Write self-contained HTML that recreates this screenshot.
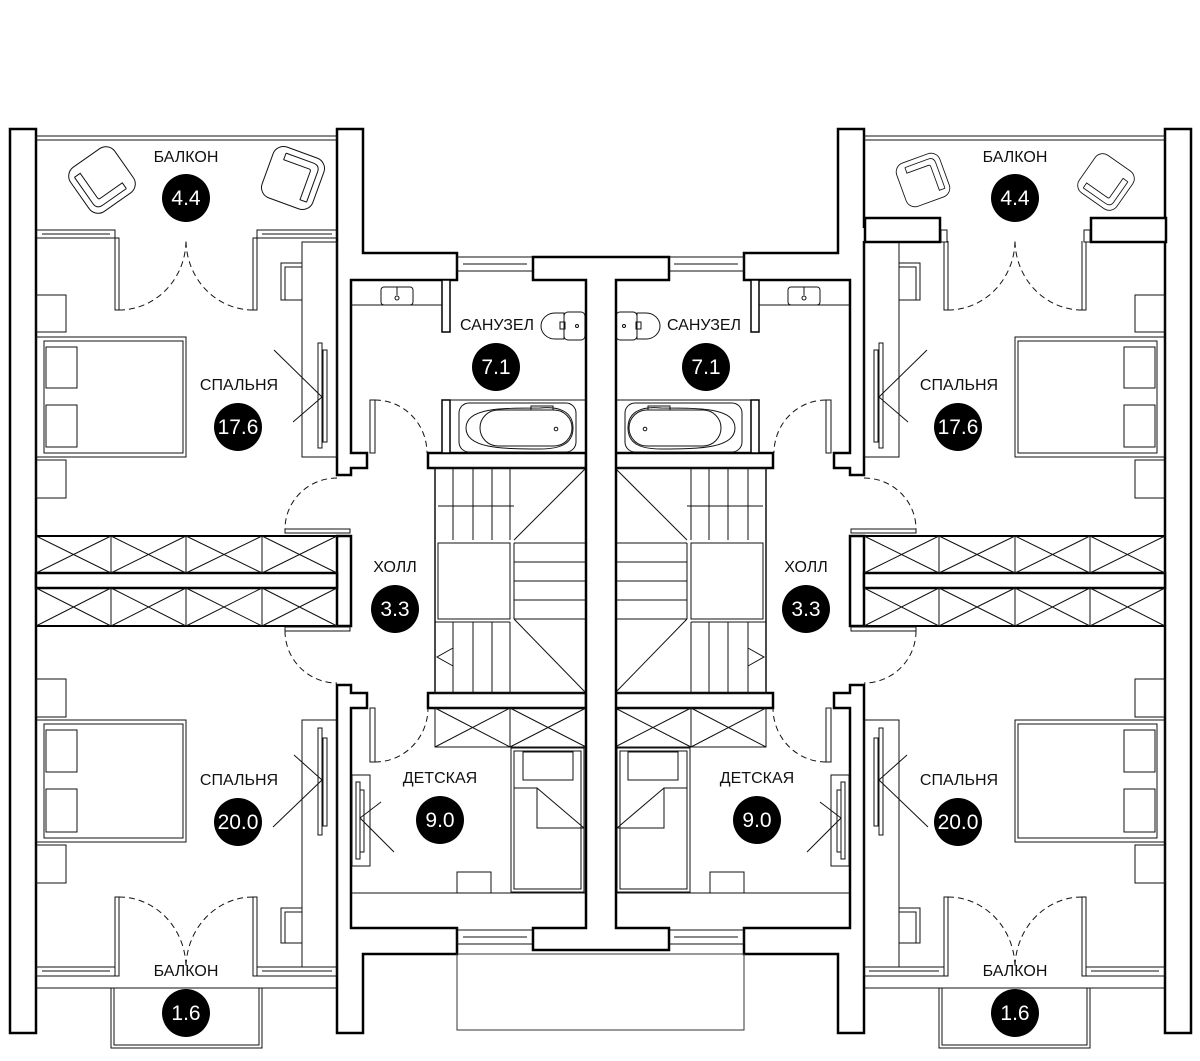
<!DOCTYPE html>
<html><head><meta charset="utf-8"><style>
html,body{margin:0;padding:0;background:#fff}
svg{display:block}
text{font-family:"Liberation Sans",sans-serif}
.lbl{font-size:16px;fill:#111;text-anchor:middle}
.num{font-size:21px;fill:#fff;text-anchor:middle}
</style></head><body>
<svg width="1200" height="1061" viewBox="0 0 1200 1061" xmlns="http://www.w3.org/2000/svg">
<defs>
<g id="half" fill="none" stroke="#111" stroke-width="1">
  <g fill="#fff" stroke="#000" stroke-width="2.5">
    <rect x="10" y="129" width="26" height="904"/>
    <polygon points="337,129 363,129 363,253 457,253 457,280 351,280 351,453 367,453 367,468 351,468 351,475 337,475"/>
    <rect x="337" y="536" width="14" height="90"/>
    <rect x="36" y="573" width="301" height="15"/>
    <polygon points="337,685 351,685 351,693 367,693 367,708 351,708 351,928 457,928 457,954 363,954 363,1033 337,1033"/>
    <rect x="428" y="453" width="158" height="15"/>
    <rect x="428" y="693" width="158" height="15"/>
  </g>
  <rect x="36" y="136" width="301" height="4"/>
  <rect x="457" y="257" width="76" height="14"/><line x1="463" y1="264" x2="527" y2="264"/>
  <rect x="457" y="930" width="76" height="14"/><line x1="463" y1="937" x2="527" y2="937"/>
  <!-- bottom balcony windows & balcony -->
  <rect x="36" y="967" width="79" height="9"/><line x1="42" y1="971" x2="110" y2="971"/>
  <rect x="257" y="967" width="80" height="9"/><line x1="262" y1="971" x2="332" y2="971"/>
  <line x1="36" y1="988" x2="111" y2="988"/><line x1="262" y1="988" x2="337" y2="988"/>
  <rect x="111" y="988" width="151" height="60"/><rect x="114" y="988" width="145" height="57"/>
  <rect x="115" y="897" width="4" height="79"/><rect x="253" y="897" width="4" height="79"/>
  <path d="M119,897 A67,71 0 0 1 186,968" stroke-dasharray="6,4"/>
  <path d="M253,897 A67,71 0 0 0 186,968" stroke-dasharray="6,4"/>
  <rect x="115" y="238" width="4" height="72"/><rect x="253" y="238" width="4" height="72"/>
  <path d="M119,310 A67,70 0 0 0 186,240" stroke-dasharray="6,4"/>
  <path d="M253,310 A67,70 0 0 1 186,240" stroke-dasharray="6,4"/>
  <rect x="36" y="536" width="301" height="37" stroke="#000" stroke-width="2"/>
  <rect x="36" y="588" width="301" height="38" stroke="#000" stroke-width="2"/>
  <path d="M111,536V573M186,536V573M262,536V573M36,536L111,573M111,536L36,573M111,536L186,573M186,536L111,573M186,536L262,573M262,536L186,573M262,536L337,573M337,536L262,573"/>
  <path d="M111,588V626M186,588V626M262,588V626M36,588L111,626M111,588L36,626M111,588L186,626M186,588L111,626M186,588L262,626M262,588L186,626M262,588L337,626M337,588L262,626"/>
  <rect x="285" y="529" width="65" height="4"/>
  <path d="M337,478 A52,51 0 0 0 285,529" stroke-dasharray="6,4"/>
  <rect x="285" y="627" width="65" height="4"/>
  <path d="M285,631 A52,52 0 0 0 337,683" stroke-dasharray="6,4"/>
  <rect x="36" y="337" width="150" height="120"/><rect x="44" y="341" width="139" height="112"/>
  <rect x="46" y="347" width="31" height="41"/><rect x="46" y="405" width="31" height="42"/>
  <rect x="36" y="295" width="30" height="37"/><rect x="36" y="460" width="30" height="38"/>
  <rect x="302" y="242" width="35" height="215"/>
  <rect x="281" y="263" width="21" height="37"/><rect x="285" y="267" width="17" height="33"/>
  <rect x="318" y="343" width="4" height="105"/><rect x="323" y="350" width="4" height="92"/>
  <path d="M274,350L322,397L293,422"/>
  <rect x="36" y="720" width="150" height="122"/><rect x="44" y="724" width="139" height="114"/>
  <rect x="46" y="730" width="31" height="42"/><rect x="46" y="789" width="31" height="43"/>
  <rect x="36" y="679" width="30" height="38"/><rect x="36" y="845" width="30" height="38"/>
  <rect x="302" y="720" width="35" height="247"/>
  <rect x="281" y="908" width="21" height="35"/><rect x="285" y="912" width="17" height="31"/>
  <rect x="318" y="728" width="4" height="107"/><rect x="323" y="738" width="4" height="88"/>
  <path d="M294,755L322,780L273,827"/>
  <rect x="442" y="280" width="8" height="52" fill="#fff" stroke="#000" stroke-width="1.5"/>
  <line x1="351" y1="305" x2="442" y2="305"/>
  <rect x="381" y="287" width="32" height="18" rx="3"/>
  <circle cx="397" cy="298" r="2"/><line x1="397" y1="287" x2="397" y2="295"/>
  <path d="M564,313 H555 A14,13 0 0 0 555,339 H564 Z"/><rect x="564" y="312" width="21" height="28" rx="4"/>
  <rect x="560" y="322" width="5" height="7"/><circle cx="577" cy="326" r="1.5"/>
  <rect x="442" y="400" width="8" height="53" fill="#fff" stroke="#000" stroke-width="1.5"/>
  <line x1="450" y1="400" x2="586" y2="400"/>
  <rect x="459" y="403" width="117" height="49" rx="10"/>
  <rect x="480" y="410" width="92" height="36" rx="18"/>
  <path d="M466,428 C466,408 500,408 540,408 C560,406 573,412 573,428 C573,444 560,449 540,449 C500,449 466,448 466,428Z"/>
  <circle cx="556" cy="429" r="1.8"/>
  <rect x="531" y="406" width="22" height="4"/>
  <rect x="370" y="400" width="5" height="53"/>
  <path d="M375,400 A52,53 0 0 1 427,453" stroke-dasharray="6,4"/>
  <rect x="435" y="468" width="151" height="225" stroke-width="1.5"/>
  <path d="M453,468V540M473,468V540M492,468V540M510,468V540M438,506H514M514,540L586,468M438,543H510V619H438ZM514,543H586M514,562H586M514,581H586M514,600H586M514,619H586M514,543V619M514,619L586,693M453,622V693M473,622V693M492,622V693M510,622V693M435,622H510"/>
  <path d="M453,648L437,657L453,666"/>
  <rect x="435" y="708" width="151" height="39"/>
  <path d="M510,708V747M435,708L510,747M510,708L435,747M510,708L586,747M586,708L510,747"/>
  <rect x="511" y="748" width="73" height="144"/><rect x="514" y="751" width="67" height="138"/>
  <rect x="523" y="752" width="50" height="28"/>
  <path d="M514,788H537V828H584M537,788L584,828"/>
  <line x1="351" y1="893" x2="586" y2="893"/>
  <rect x="457" y="872" width="34" height="21"/>
  <rect x="370" y="708" width="5" height="54"/>
  <path d="M375,762 A53,54 0 0 0 428,708" stroke-dasharray="6,4"/>
  <rect x="352" y="775" width="18" height="91"/>
  <rect x="356" y="782" width="4" height="77"/><rect x="360" y="790" width="4" height="62"/>
  <path d="M381,802L360,818L394,852"/>
</g>
<g id="chair" fill="none" stroke="#111" stroke-width="1">
  <rect x="-27" y="-27" width="54" height="54" rx="11"/>
  <path d="M-21,-18 V14 Q-21,21 -14,21 H15 M-21,-18 H-14 V12 Q-14,14 -12,14 H15 V21"/>
</g>
</defs>

<use href="#half"/>
<use href="#half" transform="translate(1201,0) scale(-1,1)"/>

<polygon points="533,257 669,257 669,280 616,280 616,928 669,928 669,950 533,950 533,928 586,928 586,280 533,280" fill="#fff" stroke="#000" stroke-width="2.5"/>
<rect x="457" y="954" width="287" height="76" fill="none" stroke="#333" stroke-width="1"/>

<g fill="none" stroke="#111" stroke-width="1">
  <rect x="36" y="230" width="79" height="8"/><line x1="42" y1="234" x2="110" y2="234"/>
  <rect x="257" y="230" width="80" height="8"/><line x1="262" y1="234" x2="332" y2="234"/>
</g>
<rect x="862" y="228" width="308" height="13" fill="#fff" stroke="none"/>
<g fill="#fff" stroke="#000" stroke-width="2.5">
  <rect x="865" y="218" width="75" height="24"/>
  <rect x="1091" y="218" width="75" height="24"/>
</g>
<rect x="941" y="230" width="6" height="12" fill="#fff" stroke="#111"/>
<rect x="1084" y="230" width="6" height="12" fill="#fff" stroke="#111"/>

<use href="#chair" transform="translate(102,180) rotate(-35)"/>
<use href="#chair" transform="translate(293,178) rotate(200) "/>
<use href="#chair" transform="translate(923,180) rotate(160) scale(0.85)"/>
<use href="#chair" transform="translate(1106,182) rotate(-55) scale(0.85)"/>

<g>
<text class="lbl" x="186" y="162">БАЛКОН</text><circle cx="186" cy="198" r="24"/><text class="num" x="186" y="205">4.4</text>
<text class="lbl" x="1015" y="162">БАЛКОН</text><circle cx="1015" cy="198" r="24"/><text class="num" x="1015" y="205">4.4</text>
<text class="lbl" x="497" y="330">САНУЗЕЛ</text><circle cx="496" cy="367" r="24"/><text class="num" x="496" y="374">7.1</text>
<text class="lbl" x="704" y="330">САНУЗЕЛ</text><circle cx="706" cy="367" r="24"/><text class="num" x="706" y="374">7.1</text>
<text class="lbl" x="239" y="390">СПАЛЬНЯ</text><circle cx="238" cy="427" r="24"/><text class="num" x="238" y="434">17.6</text>
<text class="lbl" x="959" y="390">СПАЛЬНЯ</text><circle cx="958" cy="427" r="24"/><text class="num" x="958" y="434">17.6</text>
<text class="lbl" x="395" y="572">ХОЛЛ</text><circle cx="395" cy="609" r="24"/><text class="num" x="395" y="616">3.3</text>
<text class="lbl" x="806" y="572">ХОЛЛ</text><circle cx="806" cy="609" r="24"/><text class="num" x="806" y="616">3.3</text>
<text class="lbl" x="239" y="785">СПАЛЬНЯ</text><circle cx="238" cy="822" r="24"/><text class="num" x="238" y="829">20.0</text>
<text class="lbl" x="959" y="785">СПАЛЬНЯ</text><circle cx="958" cy="822" r="24"/><text class="num" x="958" y="829">20.0</text>
<text class="lbl" x="440" y="783">ДЕТСКАЯ</text><circle cx="440" cy="820" r="24"/><text class="num" x="440" y="827">9.0</text>
<text class="lbl" x="757" y="783">ДЕТСКАЯ</text><circle cx="757" cy="820" r="24"/><text class="num" x="757" y="827">9.0</text>
<text class="lbl" x="186" y="976">БАЛКОН</text><circle cx="186" cy="1013" r="24"/><text class="num" x="186" y="1020">1.6</text>
<text class="lbl" x="1015" y="976">БАЛКОН</text><circle cx="1015" cy="1013" r="24"/><text class="num" x="1015" y="1020">1.6</text>
</g>
</svg>
</body></html>
